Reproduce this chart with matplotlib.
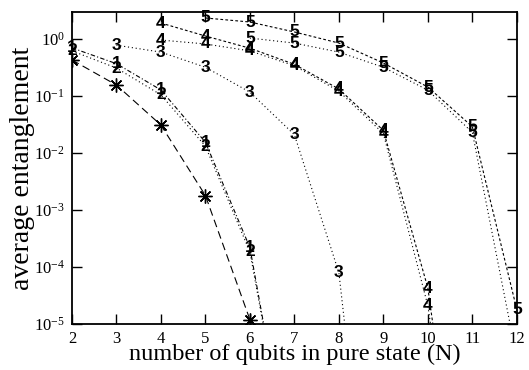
import numpy as np
import matplotlib
matplotlib.use('Agg')
import matplotlib.pyplot as plt
from matplotlib.ticker import FixedLocator, NullLocator, LogFormatterSciNotation

plt.rcParams['font.family'] = ['Liberation Serif', 'DejaVu Serif']
plt.rcParams['mathtext.fontset'] = 'custom'
plt.rcParams['mathtext.rm'] = 'Liberation Serif'
plt.rcParams['mathtext.it'] = 'Liberation Serif:italic'
plt.rcParams['axes.unicode_minus'] = False

# data (average entanglement vs N)
x_star = [2, 3, 4, 5, 6, 7]
y_star = [0.43, 0.156, 0.031, 0.0018, 1.2e-5, 1e-8]

x_1 = [2, 3, 4, 5, 6, 7]
y_1 = [0.70, 0.37, 0.128, 0.0155, 2.2e-4, 1e-8]

x_2 = [2, 3, 4, 5, 6, 7]
y_2 = [0.62, 0.31, 0.105, 0.0132, 1.85e-4, 1e-8]

x_3 = [3, 4, 5, 6, 7, 8, 9]
y_3 = [0.78, 0.59, 0.32, 0.117, 0.021, 8e-5, 1e-11]

x_4a = [4, 5, 6, 7, 8, 9, 10, 11]
y_4a = [1.91, 1.13, 0.69, 0.36, 0.133, 0.025, 4.3e-5, 1e-10]

x_4b = [4, 5, 6, 7, 8, 9, 10, 11]
y_4b = [0.96, 0.82, 0.62, 0.34, 0.122, 0.022, 2.1e-5, 1e-10]

x_5a = [5, 6, 7, 8, 9, 10, 11, 12]
y_5a = [2.34, 1.99, 1.33, 0.85, 0.38, 0.144, 0.029, 1.8e-5]

x_5b = [6, 7, 8, 9, 10, 11, 12]
y_5b = [1.04, 0.85, 0.59, 0.32, 0.127, 0.023, 2.5e-6]

ymin, ymax = 1e-5, 3

fig = plt.figure(figsize=(5.29, 3.70), dpi=100)
ax = fig.add_axes([0.136, 0.124, 0.841, 0.844])
ax.set_yscale('log')

lw = 0.8
ax.plot(x_star, y_star, color='k', lw=lw, dashes=(7, 4),
        marker=(8, 2, 0), markersize=10, markeredgewidth=1.0)
ax.plot(x_1, y_1, color='k', lw=lw, dashes=(4, 2, 1, 2))
ax.plot(x_2, y_2, color='k', lw=lw, dashes=(1, 2.5))
ax.plot(x_3, y_3, color='k', lw=lw, dashes=(1, 2.5))
ax.plot(x_4a, y_4a, color='k', lw=lw, dashes=(2.5, 2))
ax.plot(x_4b, y_4b, color='k', lw=lw, dashes=(1, 2.5))
ax.plot(x_5a, y_5a, color='k', lw=lw, dashes=(2.5, 2))
ax.plot(x_5b, y_5b, color='k', lw=lw, dashes=(1, 2.5))

# point labels (digits) are not clipped at the frame, only dropped when off-scale
series = [('1', x_1, y_1), ('2', x_2, y_2), ('3', x_3, y_3),
          ('4', x_4a, y_4a), ('4', x_4b, y_4b),
          ('5', x_5a, y_5a), ('5', x_5b, y_5b)]
for lab, xs, ys in series:
    for xv, yv in zip(xs, ys):
        if yv < ymin:
            continue
        ax.text(xv, yv, lab, ha='center', va='center', fontsize=12.5,
                fontweight='bold', family='Liberation Sans', clip_on=False)

ax.set_xlim(2, 12)
ax.set_ylim(ymin, ymax)
ax.xaxis.set_major_locator(FixedLocator(range(2, 13)))
ax.yaxis.set_major_locator(FixedLocator([1e-5, 1e-4, 1e-3, 1e-2, 1e-1, 1e0]))
ax.yaxis.set_major_formatter(LogFormatterSciNotation())
ax.yaxis.set_minor_locator(NullLocator())
ax.tick_params(which='both', direction='in', top=True, right=True,
               length=7, width=1.0, labelsize=12, pad=5)
for s in ax.spines.values():
    s.set_linewidth(1.3)

ax.set_xlabel('number of qubits in pure state (N)', fontsize=17.5)
ax.xaxis.set_label_coords(0.5, -0.062)
ax.set_ylabel('average entanglement', fontsize=20)
ax.yaxis.set_label_coords(-0.082, 0.5)

fig.savefig('out.png', dpi=100)
